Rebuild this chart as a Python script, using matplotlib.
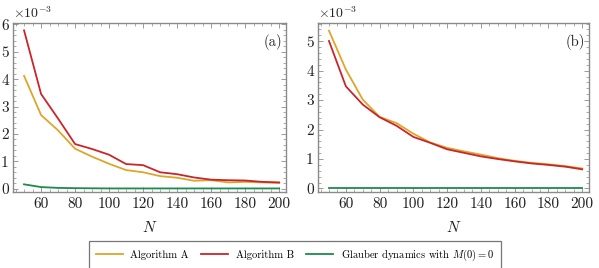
import matplotlib
matplotlib.use("Agg")
import matplotlib.pyplot as plt
from matplotlib.ticker import MultipleLocator

plt.rcParams['font.family'] = 'serif'
plt.rcParams['font.serif'] = ['cmr10', 'DejaVu Serif']
plt.rcParams['mathtext.fontset'] = 'cm'
plt.rcParams['axes.unicode_minus'] = False

N = [50, 60, 70, 80, 90, 100, 110, 120, 130, 140, 150, 160, 170, 180, 190, 200]

# panel (a), values in units of 1e-3
a_A = [4.12, 2.69, 2.13, 1.46, 1.17, 0.91, 0.68, 0.60, 0.46, 0.40, 0.29, 0.31, 0.23, 0.25, 0.23, 0.21]
a_B = [5.78, 3.46, 2.56, 1.63, 1.45, 1.24, 0.90, 0.86, 0.60, 0.53, 0.41, 0.33, 0.31, 0.30, 0.25, 0.23]
a_G = [0.16, 0.06, 0.03, 0.02, 0.015, 0.01, 0.01, 0.01, 0.01, 0.01, 0.01, 0.01, 0.01, 0.01, 0.01, 0.01]

# panel (b)
b_A = [5.36, 4.04, 3.02, 2.43, 2.22, 1.86, 1.56, 1.38, 1.26, 1.15, 1.03, 0.94, 0.87, 0.82, 0.76, 0.68]
b_B = [5.01, 3.47, 2.85, 2.42, 2.13, 1.75, 1.55, 1.33, 1.21, 1.09, 1.00, 0.92, 0.85, 0.80, 0.74, 0.65]
b_G = [0.005] * 16

labels = ['Algorithm A', 'Algorithm B', r'Glauber dynamics with $M(0) = 0$']
colors = ['#DDA62A', '#C9252B', '#1F8A4D']

fig = plt.figure(figsize=(5.99, 2.68), dpi=100)
ax1 = fig.add_axes([13/599, 1-192/268, 273/599, 169/268])
ax2 = fig.add_axes([318/599, 1-192/268, 271/599, 169/268])

frame_col = '#8a8a8a'
for ax, ys, tag, ylim in [(ax1, (a_A, a_B, a_G), '(a)', (-0.12e-3, 6.05e-3)),
                          (ax2, (b_A, b_B, b_G), '(b)', (-0.12e-3, 5.62e-3))]:
    lines = []
    for y, c, lab in zip(ys, colors, labels):
        l, = ax.plot(N, [v * 1e-3 for v in y], color=c, lw=1.3, label=lab)
        lines.append(l)
    ax.set_xlim(43.5, 204)
    ax.xaxis.set_major_locator(MultipleLocator(20))
    ax.xaxis.set_minor_locator(MultipleLocator(5))
    ax.yaxis.set_minor_locator(MultipleLocator(0.2e-3))
    ax.set_yticks([i * 1e-3 for i in range(0, 7)])
    ax.set_yticklabels([str(i) for i in range(0, 7)])
    ax.set_ylim(*ylim)
    ax.tick_params(which='both', direction='in', top=True, right=True,
                   colors=frame_col, labelcolor='#222222', labelsize=11)
    ax.tick_params(which='major', length=3.5, width=0.6)
    ax.tick_params(which='minor', length=2, width=0.5)
    ax.tick_params(axis='y', pad=3)
    ax.tick_params(axis='x', pad=4)
    for s in ax.spines.values():
        s.set_color(frame_col)
        s.set_linewidth(1.0)
    ax.text(0.0, 1.01, r'$\times10^{-3}$', transform=ax.transAxes, ha='left',
            va='bottom', fontsize=10, color='#222222')
    ax.text(0.985, 0.935, tag, transform=ax.transAxes, ha='right', va='top',
            fontsize=10.5, color='#222222')
    ax.set_xlabel(r'$N$', fontsize=11, labelpad=6, color='#222222')

leg = fig.legend(handles=lines, loc='center', bbox_to_anchor=(295/599, 1-255/268),
                 ncol=3, fontsize=7.6, frameon=True, fancybox=False,
                 handlelength=2.55, columnspacing=1.2, handletextpad=0.7,
                 borderpad=0.6, edgecolor='#555555')
leg.get_frame().set_linewidth(0.9)

fig.savefig('out.png', dpi=100)
